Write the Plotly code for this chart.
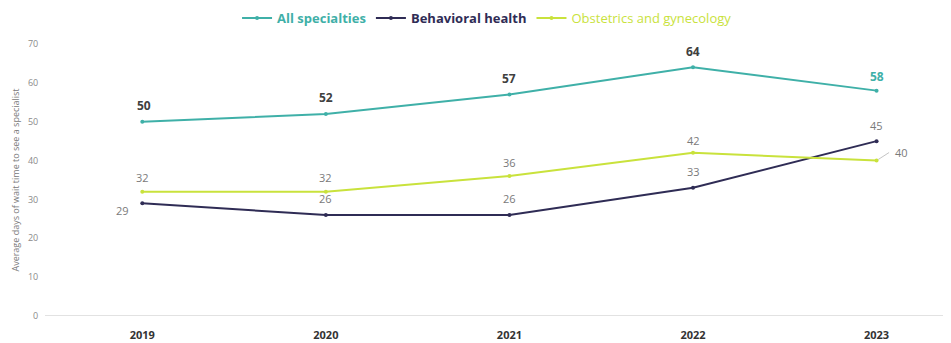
import plotly.graph_objects as go

years = ["2019", "2020", "2021", "2022", "2023"]
all_spec = [50, 52, 57, 64, 58]
behavioral = [29, 26, 26, 33, 45]
obgyn = [32, 32, 36, 42, 40]

teal = "#3fb0a8"
navy = "#2f2c55"
lime = "#c9e23c"
label_gray = "#7a7a7a"
dark = "#404040"

fig = go.Figure()

fig.add_trace(go.Scatter(
    x=years, y=all_spec, mode="lines+markers",
    name="<b><span style='color:%s'>All specialties</span></b>" % teal,
    line=dict(color=teal, width=2), marker=dict(size=4, color=teal),
))
fig.add_trace(go.Scatter(
    x=years, y=behavioral, mode="lines+markers",
    name="<b><span style='color:%s'>Behavioral health</span></b>" % navy,
    line=dict(color=navy, width=2), marker=dict(size=4, color=navy),
))
fig.add_trace(go.Scatter(
    x=years, y=obgyn, mode="lines+markers",
    name="<span style='color:%s'>Obstetrics and gynecology</span>" % lime,
    line=dict(color=lime, width=2), marker=dict(size=4, color=lime),
))

# data labels (x given as category index)
n = len(years)
for i, v in enumerate(all_spec):
    col = teal if i == n - 1 else dark
    fig.add_annotation(x=i, y=v, text="<b>%d</b>" % v, showarrow=False,
                       yshift=16 if i < n - 1 else 14, xshift=2 if i == 0 else 0,
                       font=dict(size=12, color=col, family="Open Sans"))
for i, v in enumerate(behavioral):
    if i == 0:
        fig.add_annotation(x=i, y=v, text=str(v), showarrow=False,
                           xshift=-20, yshift=-7,
                           font=dict(size=11, color=label_gray, family="Open Sans"))
    else:
        fig.add_annotation(x=i, y=v, text=str(v), showarrow=False, yshift=16,
                           font=dict(size=11, color=label_gray, family="Open Sans"))
for i, v in enumerate(obgyn):
    if i < n - 1:
        fig.add_annotation(x=i, y=v, text=str(v), showarrow=False,
                           yshift=12 if i == 3 else 14,
                           font=dict(size=11, color=label_gray, family="Open Sans"))
    else:
        fig.add_annotation(x=i, y=v, text=str(v), showarrow=False,
                           xshift=25, yshift=8,
                           font=dict(size=11, color=label_gray, family="Open Sans"))
        fig.add_annotation(x=i, y=v, text="", showarrow=True, arrowhead=0,
                           arrowwidth=0.8, arrowcolor="#b5b5b5",
                           ax=14, ay=-9, axref="pixel", ayref="pixel", standoff=2)

fig.update_layout(
    width=943, height=335,
    margin=dict(l=37, r=1, t=36, b=27, autoexpand=False),
    paper_bgcolor="white", plot_bgcolor="white",
    font=dict(family="Open Sans", color=label_gray),
    showlegend=True,
    legend=dict(orientation="h", x=0.508, xref="container", xanchor="center",
                y=0.97, yanchor="middle", yref="container",
                font=dict(size=13), tracegroupgap=0),
    xaxis=dict(type="category", range=[-0.53, 4.4], showgrid=False, zeroline=False,
               automargin=False, showline=False, ticks="outside", ticklen=9,
               tickcolor="white",
               tickfont=dict(size=11, color="#333333", family="Open Sans"),
               tickprefix="<b>", ticksuffix="</b>"),
    yaxis=dict(range=[0, 70], dtick=10, showgrid=False, zeroline=False, automargin=False,
               showline=False, tickfont=dict(size=9, color="#8a8a8a"),
               ticks="outside", ticklen=4, tickcolor="white",
               title=dict(text="Average days of wait time to see a specialist",
                          font=dict(size=9, color="#7a7a7a"), standoff=6)),
    shapes=[dict(type="line", xref="paper", yref="y", x0=0, x1=1, y0=0, y1=0,
                 line=dict(color="#d9d9d9", width=1.5))],
)

fig.write_html("out.html")
